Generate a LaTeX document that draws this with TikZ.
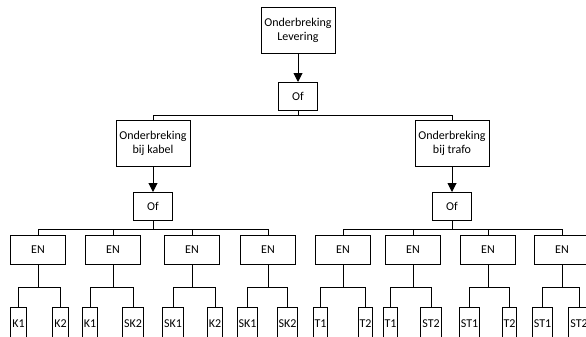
\documentclass[tikz,border=0pt]{standalone}
\usepackage{fontspec}
\setmainfont{Carlito}
\usepackage{tikz}
\usetikzlibrary{positioning,arrows.meta}
\tikzstyle{block} = [rectangle, draw, line width=1pt, align=center, inner sep=2pt]
\tikzstyle{event} = [block, minimum width=74pt, minimum height=46pt]
\tikzstyle{gate} = [block, minimum width=39pt, minimum height=28pt]
\tikzstyle{andgate} = [block, minimum width=55pt, minimum height=29pt]
\tikzstyle{leaf} = [block, inner xsep=1.5pt, minimum height=34pt]
\tikzstyle{line} = [draw, line width=1pt]
\tikzstyle{arrow} = [line, -{Triangle[length=9pt,width=9pt]}]

\begin{document}
\begin{tikzpicture}[x=1pt, y=1pt, font=\fontsize{12}{14.4}\selectfont]
    \useasboundingbox (0,0) rectangle (586,-337);
    \clip (0,0) rectangle (586,-337);

    % Nodes
    \node [event] (levering) at (298,-30.5) {Onderbreking\\Levering};
    \node [gate, below=28pt of levering] (of_top) {Of};

    \node [event, below=9pt of of_top, xshift=-145pt] (kabel) {Onderbreking\\bij kabel};
    \node [event, below=9pt of of_top, xshift=154pt] (trafo) {Onderbreking\\bij trafo};

    \node [gate, below=25pt of kabel] (of_kabel) {Of};
    \node [gate, below=25pt of trafo] (of_trafo) {Of};

    % Lines
    \draw [arrow] (levering.south) -- (of_top.north);
    \draw [line] (of_top.south) -- ++(0,-4) -| (kabel.north);
    \draw [line] (of_top.south) -- ++(0,-4) -| (trafo.north);
    \draw [arrow] (kabel.south) -- (of_kabel.north);
    \draw [arrow] (trafo.south) -- (of_trafo.north);

    % EN gates with their leaves
    \foreach \n/\x/\la/\xa/\lb/\xb in {1/38/K1/18.5/K2/60.5, 2/113/K1/90/SK2/133,
        3/192/SK1/173/K2/215, 4/268/SK1/247.5/SK2/287.5} {
        \node [andgate] (en\n) at (\x,-249.5) {EN};
        \node [leaf] (en\n a) at (\xa,-324) {\la};
        \node [leaf] (en\n b) at (\xb,-324) {\lb};
        \draw [line] (of_kabel.south) -- ++(0,-8) -| (en\n.north);
        \draw [line] (en\n.south) -- ++(0,-23) -| (en\n a.north);
        \draw [line] (en\n.south) -- ++(0,-23) -| (en\n b.north);
    }
    \foreach \n/\x/\la/\xa/\lb/\xb in {5/343/T1/320.5/T2/365.5, 6/413/T1/390.5/ST2/431,
        7/488/ST1/469.5/T2/509.5, 8/562/ST1/542.5/ST2/579} {
        \node [andgate] (en\n) at (\x,-249.5) {EN};
        \node [leaf] (en\n a) at (\xa,-324) {\la};
        \node [leaf] (en\n b) at (\xb,-324) {\lb};
        \draw [line] (of_trafo.south) -- ++(0,-8) -| (en\n.north);
        \draw [line] (en\n.south) -- ++(0,-23) -| (en\n a.north);
        \draw [line] (en\n.south) -- ++(0,-23) -| (en\n b.north);
    }

\end{tikzpicture}
\end{document}
